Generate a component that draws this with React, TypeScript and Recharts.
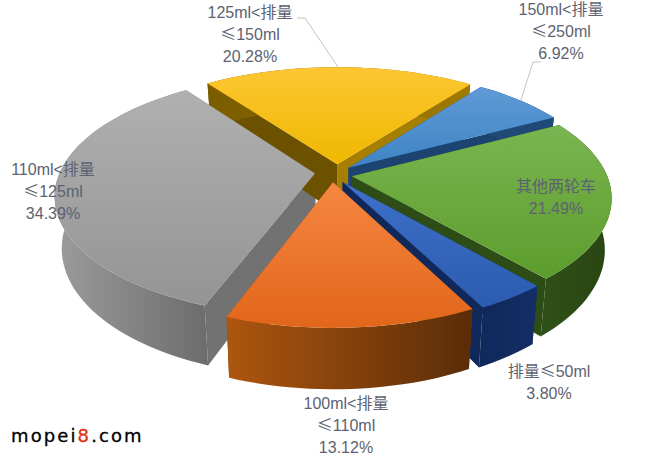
import React from "react";
import { PieChart, Pie } from "recharts";

const sliceNames = ["110ml<排量≤125ml", "125ml<排量≤150ml", "150ml<排量≤250ml", "其他两轮车", "排量≤50ml", "100ml<排量≤110ml"];
const sliceValues = [34.39, 20.28, 6.92, 21.49, 3.8, 13.12];
const labelLines = [
  ["110ml<排量", "≤125ml"],
  ["125ml<排量", "≤150ml"],
  ["150ml<排量", "≤250ml"],
  ["其他两轮车"],
  ["排量≤50ml"],
  ["100ml<排量", "≤110ml"],
];

const tableData = sliceNames.map((name, i) => ({ name, value: sliceValues[i] }));

// display styling per slice
const explode = [0.095, 0.085, 0.07, 0.055, 0.06, 0.07];
const nudgeX = [1, -1, -3, 0, -4, -6];
const nudgeY = [-2, 0, -1, 1, 2, 0];
const topColors = [
  ["#b0b0b0", "#949494"],
  ["#fdc633", "#efb800"],
  ["#5e9ad6", "#3f84c4"],
  ["#7ab651", "#5c9c2c"],
  ["#3f70c8", "#2b5cb0"],
  ["#f58641", "#e1661a"],
];
const wallColors = [
  ["#9c9c9c", "#6c6c6c"],
  ["#7a5c00", "#a07a00"],
  ["#1f4a78", "#1f4a78"],
  ["#2f5017", "#2a4513"],
  ["#10285a", "#142f66"],
  ["#ad560f", "#5a2c08"],
];
const lowAngleSide = ["#727272", "#a67f00", "#1c4470", "#2d4c16", "#10285a", "#8c4510"];
const highAngleSide = ["#727272", "#6b5100", "#1c4470", "#2d4c16", "#10285a", "#8c4510"];
const labelPos = [
  { x: 53, y: 175 },
  { x: 250, y: 18 },
  { x: 561, y: 15 },
  { x: 556, y: 192 },
  { x: 549, y: 377 },
  { x: 346, y: 409 },
];
const leaderLines: Record<number, string> = {
  1: "297,18 305,18 338,67",
  2: "541,62 533,62 521,100",
};

const RATIO_Y = 0.459;
const PERSP = 0.174;
const DEPTH = 50;
const BOTTOM_SHRINK = 0.975;
const RAD = Math.PI / 180;

function makeProjector(p: any, idx: number) {
  const mid = ((p.startAngle + p.endAngle) / 2) * RAD;
  const ox = explode[idx] * Math.cos(mid);
  const oy = explode[idx] * Math.sin(mid);
  const rx = p.outerRadius;
  const ry = rx * RATIO_Y;
  return (ux: number, uy: number, bottom: boolean) => {
    const X = ux + ox;
    const Y = uy + oy;
    const s = 1 / (1 + PERSP * Y);
    const px = p.cx + rx * X * s * (bottom ? BOTTOM_SHRINK : 1) + nudgeX[idx];
    const py = p.cy - ry * Y * s + (bottom ? DEPTH * s : 0) + nudgeY[idx];
    return `${px.toFixed(1)},${py.toFixed(1)}`;
  };
}

function arcPoints(p: any) {
  const a0 = Math.min(p.startAngle, p.endAngle);
  const a1 = Math.max(p.startAngle, p.endAngle);
  const n = Math.max(4, Math.ceil((a1 - a0) / 2));
  const out: [number, number][] = [];
  for (let i = 0; i <= n; i++) {
    const a = (a0 + ((a1 - a0) * i) / n) * RAD;
    out.push([Math.cos(a), Math.sin(a)]);
  }
  return out;
}

const sliceIndex = (p: any) => sliceNames.indexOf(p.name ?? p.payload?.name);

function WallShape(p: any) {
  const i = sliceIndex(p);
  const proj = makeProjector(p, i);
  const arc = arcPoints(p);
  const first = arc[0];
  const last = arc[arc.length - 1];
  const outer = [
    ...arc.map(([x, y]) => proj(x, y, false)),
    ...arc.slice().reverse().map(([x, y]) => proj(x, y, true)),
  ].join(" ");
  const sideA = [proj(0, 0, false), proj(first[0], first[1], false), proj(first[0], first[1], true), proj(0, 0, true)].join(" ");
  const sideB = [proj(0, 0, false), proj(last[0], last[1], false), proj(last[0], last[1], true), proj(0, 0, true)].join(" ");
  const id = `wall-${i}`;
  return (
    <g>
      <defs>
        <linearGradient id={id} x1="0" y1="0" x2="1" y2="0">
          <stop offset="0" stopColor={wallColors[i][0]} />
          <stop offset="1" stopColor={wallColors[i][1]} />
        </linearGradient>
      </defs>
      <polygon points={sideA} fill={lowAngleSide[i]} />
      <polygon points={sideB} fill={highAngleSide[i]} />
      <polygon points={outer} fill={`url(#${id})`} />
    </g>
  );
}

function TopShape(p: any) {
  const i = sliceIndex(p);
  const proj = makeProjector(p, i);
  const arc = arcPoints(p);
  const pts = [proj(0, 0, false), ...arc.map(([x, y]) => proj(x, y, false))].join(" ");
  const id = `top-${i}`;
  return (
    <g>
      <defs>
        <linearGradient id={id} x1="0" y1="0" x2="0" y2="1">
          <stop offset="0" stopColor={topColors[i][0]} />
          <stop offset="1" stopColor={topColors[i][1]} />
        </linearGradient>
      </defs>
      <polygon points={pts} fill={`url(#${id})`} />
    </g>
  );
}

const FONT = '"Liberation Sans", "Noto Sans CJK SC", sans-serif';
const CJK_FONT = '"Noto Sans CJK SC", sans-serif';

function lineParts(line: string) {
  return line.split(/(≤)/).filter(Boolean);
}

function SliceLabel(p: any) {
  const i = sliceIndex(p);
  const pos = labelPos[i];
  const lines = [...labelLines[i], `${sliceValues[i].toFixed(2)}%`];
  return (
    <g>
      {leaderLines[i] ? <polyline points={leaderLines[i]} fill="none" stroke="#c4c4c4" strokeWidth={1} /> : null}
      <text x={pos.x} y={pos.y} textAnchor="middle" fontFamily={FONT} fontSize={16} fill="#5c6272">
        {lines.map((l, k) => (
          <tspan key={k} x={pos.x} dy={k === 0 ? 0 : 22}>
            {lineParts(l).map((part, j) =>
              part === "≤" ? (
                <tspan key={j} fontFamily={CJK_FONT}>
                  {part}
                </tspan>
              ) : (
                <tspan key={j}>{part}</tspan>
              ),
            )}
          </tspan>
        ))}
      </text>
    </g>
  );
}

const START = -110.2;

export default function App() {
  return (
    <div style={{ position: "absolute", left: 0, top: 0, width: 650, height: 458, background: "#fff" }}>
      <PieChart width={650} height={458} margin={{ top: 0, right: 0, bottom: 0, left: 0 }}>
        <Pie
          data={tableData}
          dataKey="value"
          nameKey="name"
          cx={338}
          cy={174}
          outerRadius={255}
          startAngle={START}
          endAngle={START - 360}
          stroke="none"
          isAnimationActive={false}
          shape={WallShape}
        />
        <Pie
          data={tableData}
          dataKey="value"
          nameKey="name"
          cx={338}
          cy={174}
          outerRadius={255}
          startAngle={START}
          endAngle={START - 360}
          stroke="none"
          isAnimationActive={false}
          shape={TopShape}
          label={SliceLabel}
          labelLine={false}
        />
      </PieChart>
      <div
        style={{
          position: "absolute",
          left: 11,
          top: 425,
          fontFamily: '"DejaVu Sans", sans-serif',
          fontSize: 18,
          letterSpacing: 2.1,
          color: "#000",
          WebkitTextStroke: "0.3px #000",
          whiteSpace: "nowrap",
        }}
      >
        mopei<span style={{ color: "#e03010", WebkitTextStroke: "0.3px #e03010" }}>8</span>.com
      </div>
    </div>
  );
}
